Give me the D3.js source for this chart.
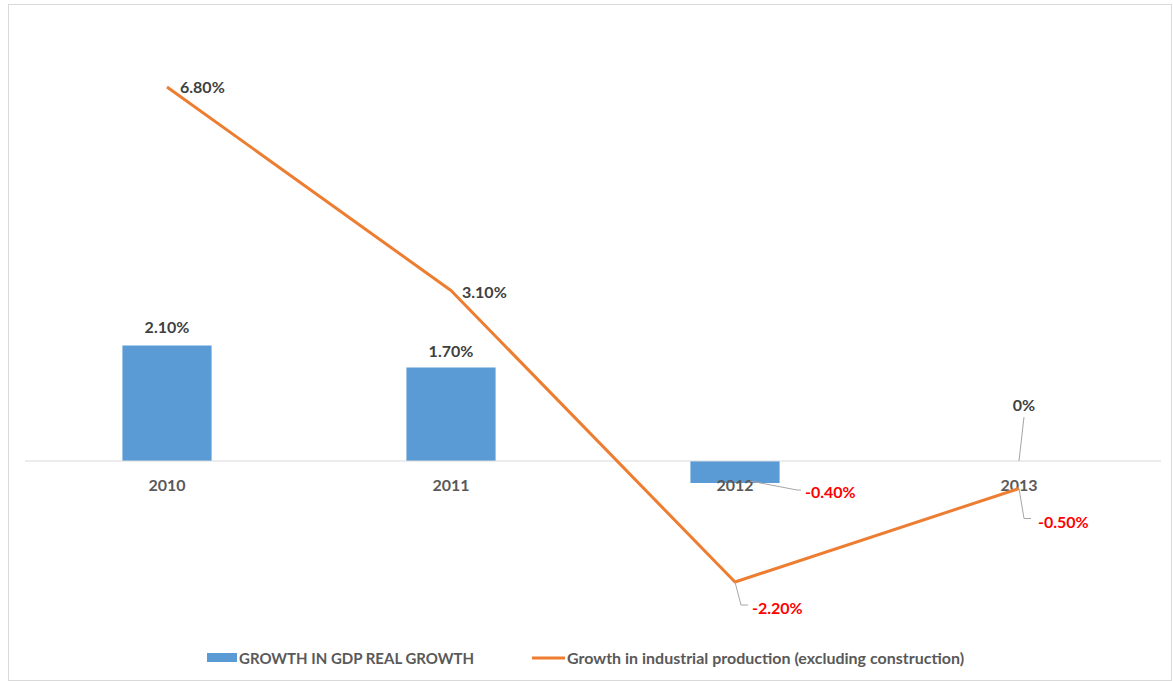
<!DOCTYPE html>
<html><head><meta charset="utf-8">
<script src="https://cdn.jsdelivr.net/npm/d3@7"></script>
<style>
body{margin:0;background:#fff;}
text{font-family:Lato,"Open Sans",sans-serif;font-weight:bold;}
</style></head>
<body><svg id="c" width="1173" height="681"></svg>
<script>
const categories = ["2010","2011","2012","2013"];
const gdpGrowth = [2.1, 1.7, -0.4, 0];
const industrialGrowth = [6.8, 3.1, -2.2, -0.5];
const gdpLabels = ["2.10%","1.70%","-0.40%","0%"];
const indLabels = ["6.80%","3.10%","-2.20%","-0.50%"];
const seriesNames = ["GROWTH IN GDP REAL GROWTH","Growth in industrial production (excluding construction)"];

const svg = d3.select("#c");
svg.append("rect").attr("x",8.5).attr("y",4.5).attr("width",1163).attr("height",676)
  .attr("fill","#fff").attr("stroke","#d9d9d9");

const x = d3.scaleBand().domain(categories).range([25,1161]).paddingInner(0.686).paddingOuter(0.343);
const y = d3.scaleLinear().domain([-2.2,6.8]).range([582,87]);
const cx = c => x(c) + x.bandwidth()/2;

// bars
svg.selectAll("rect.bar").data(categories).enter().append("rect")
  .attr("x", c => x(c)).attr("width", x.bandwidth())
  .attr("y", (c,i) => y(Math.max(0,gdpGrowth[i])))
  .attr("height", (c,i) => Math.abs(y(gdpGrowth[i]) - y(0)))
  .attr("fill","#5b9bd5");

// zero axis
svg.append("line").attr("x1",25).attr("x2",1161).attr("y1",y(0)).attr("y2",y(0))
  .attr("stroke","#d9d9d9").attr("stroke-width",1);

// category labels
svg.selectAll("text.cat").data(categories).enter().append("text")
  .attr("x", c => cx(c)).attr("y", y(0)+30).attr("text-anchor","middle")
  .attr("font-size",16).attr("fill","#595959").text(c => c);

// line
const line = d3.line().x((d,i)=>cx(categories[i])).y(d=>y(d));
svg.append("path").datum(industrialGrowth).attr("d",line)
  .attr("fill","none").attr("stroke","#ed7d31").attr("stroke-width",3).attr("stroke-linejoin","round");

// leader lines
const lead = (pts) => svg.append("polyline").attr("points",pts.map(p=>p.join(",")).join(" "))
  .attr("fill","none").attr("stroke","#a6a6a6").attr("stroke-width",1);
lead([[cx("2012")+15, y(-0.4)-2],[cx("2012")+62, y(-0.4)+7],[cx("2012")+66, y(-0.4)+7]]);
lead([[cx("2012"), y(-2.2)],[cx("2012")+6, y(-2.2)+23],[cx("2012")+13, y(-2.2)+23]]);
lead([[cx("2013"), y(0)],[cx("2013")+5, y(0)-44]]);
lead([[cx("2013"), y(-0.5)],[cx("2013")+5, y(-0.5)+30],[cx("2013")+12, y(-0.5)+30]]);

// data labels
const lbl = (xx,yy,t,col,anchor) => svg.append("text").attr("x",xx).attr("y",yy)
  .attr("text-anchor",anchor||"start").attr("font-size",16).attr("fill",col).text(t);
lbl(cx("2010"), y(2.1)-13, gdpLabels[0], "#404040", "middle");
lbl(cx("2011"), y(1.7)-11, gdpLabels[1], "#404040", "middle");
lbl(cx("2012")+70, y(-0.4)+15, gdpLabels[2], "#ff0000");
lbl(cx("2013")+5, y(0)-50, gdpLabels[3], "#404040", "middle");
lbl(cx("2010")+13, y(6.8)+6, indLabels[0], "#404040");
lbl(cx("2011")+11, y(3.1)+7, indLabels[1], "#404040");
lbl(cx("2012")+17, y(-2.2)+32, indLabels[2], "#ff0000");
lbl(cx("2013")+19, y(-0.5)+39, indLabels[3], "#ff0000");

// legend
svg.append("rect").attr("x",207).attr("y",653).attr("width",30).attr("height",9).attr("fill","#5b9bd5");
svg.append("text").attr("x",239).attr("y",664).attr("font-size",15).attr("fill","#595959").text(seriesNames[0]);
svg.append("line").attr("x1",532).attr("x2",565).attr("y1",658).attr("y2",658).attr("stroke","#ed7d31").attr("stroke-width",3);
svg.append("text").attr("x",567).attr("y",664).attr("font-size",16).attr("fill","#595959").text(seriesNames[1]);
</script></body></html>
